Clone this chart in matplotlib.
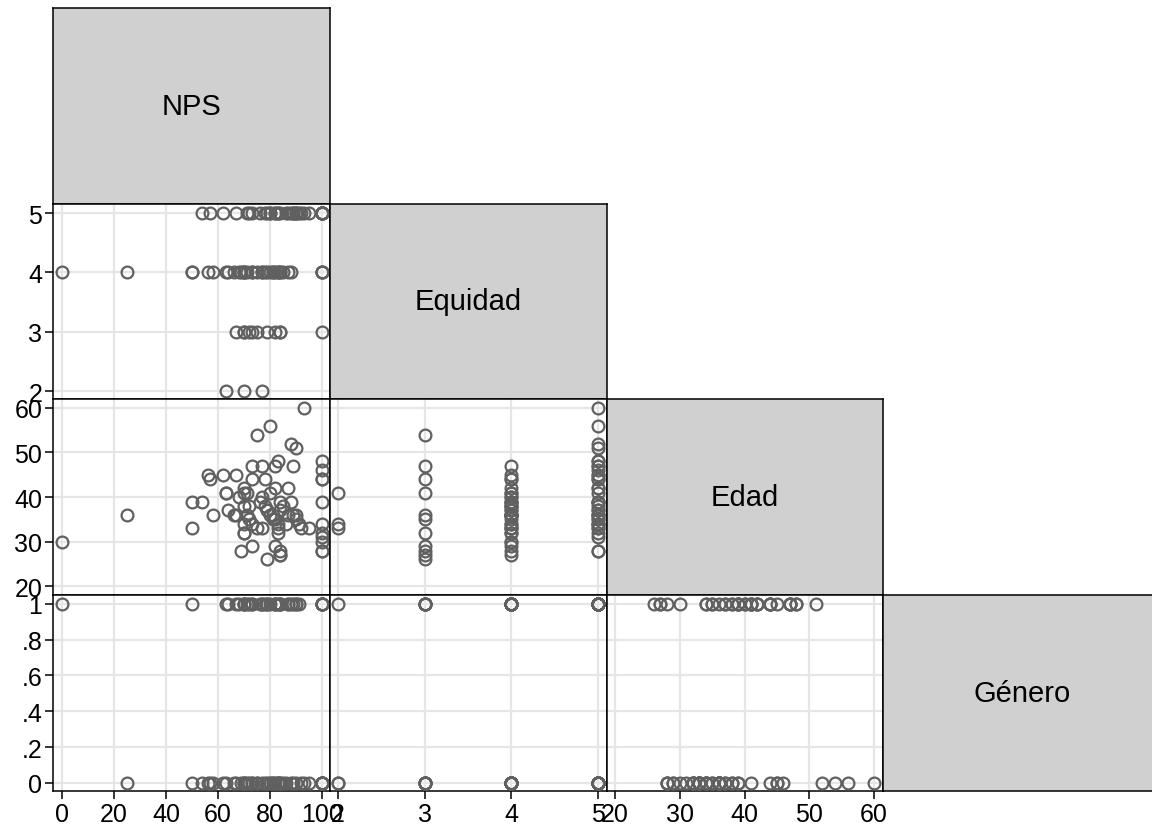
import numpy as np
import matplotlib.pyplot as plt

plt.rcParams['font.family'] = ['Liberation Sans', 'DejaVu Sans']

# one entry per respondent
nps = [0, 25, 50, 50, 54, 56, 57, 58, 62, 63, 64, 67, 67, 68, 69, 70, 70, 70, 70, 71,
       71, 72, 72, 73, 73, 73, 73, 75, 75, 76, 77, 77, 78, 79, 79, 80, 80, 80, 81, 82,
       82, 82, 83, 83, 83, 84, 84, 84, 87, 88, 88, 90, 89, 89, 90, 91, 93, 95, 100, 100,
       100, 100, 100, 100, 100, 100, 100, 100, 100, 70, 84, 70, 66, 63, 79, 81, 82, 83, 84, 85,
       86, 87, 90, 92, 77, 78]
equidad = [4, 4, 4, 4, 5, 4, 5, 4, 5, 2, 4, 5, 3, 4, 4, 2, 3, 4, 4, 5,
           4, 3, 5, 4, 3, 5, 4, 3, 4, 5, 2, 4, 4, 3, 5, 5, 4, 5, 4, 5,
           4, 3, 5, 4, 5, 3, 3, 4, 5, 4, 5, 5, 5, 5, 5, 5, 5, 5, 5, 5,
           4, 3, 5, 5, 4, 5, 4, 5, 5, 4, 4, 3, 4, 4, 4, 4, 5, 4, 5, 4,
           5, 4, 5, 5, 4, 5]
edad = [30, 36, 39, 33, 39, 45, 44, 36, 45, 41, 37, 45, 36, 40, 28, 34, 32, 42, 38, 41,
        36, 35, 38, 34, 29, 47, 44, 54, 33, 39, 33, 47, 38, 26, 37, 56, 41, 36, 35, 42,
        29, 47, 48, 34, 32, 28, 27, 39, 42, 39, 52, 51, 47, 36, 35, 34, 60, 33, 48, 46,
        44, 44, 39, 34, 32, 31, 30, 28, 28, 32, 27, 41, 36, 41, 37, 36, 35, 33, 37, 38,
        34, 36, 36, 33, 40, 44]
genero = [1, 0, 1, 0, 0, 0, 0, 0, 0, 1, 1, 1, 0, 1, 0, 0, 0, 1, 1, 1,
          0, 0, 1, 0, 0, 1, 1, 0, 0, 1, 0, 1, 0, 1, 1, 0, 1, 0, 0, 1,
          0, 1, 1, 0, 0, 0, 1, 1, 1, 1, 0, 1, 1, 0, 1, 1, 0, 0, 1, 0,
          1, 1, 0, 1, 0, 0, 0, 1, 0, 0, 1, 1, 0, 0, 0, 0, 1, 0, 0, 0,
          0, 1, 0, 0, 1, 1]

names = ["NPS", "Equidad", "Edad", "Género"]
ticks = [[0, 20, 40, 60, 80, 100], [2, 3, 4, 5], [20, 30, 40, 50, 60], [0, .2, .4, .6, .8, 1]]
tick_labels = [["0", "20", "40", "60", "80", "100"], ["2", "3", "4", "5"],
               ["20", "30", "40", "50", "60"], ["0", ".2", ".4", ".6", ".8", "1"]]
xlims = [(-3.35, 103.1), (1.908, 5.10), (18.72, 61.44)]
ylims = [None, (1.87, 5.16), (18.14, 62.0), (-0.043, 1.05)]

data = [np.array(nps), np.array(equidad), np.array(edad), np.array(genero)]

W, H = 1152, 829
fig = plt.figure(figsize=(W / 100, H / 100), dpi=100)
col_x = [53.3, 330.0, 606.7, 883.3]
row_y = [9.3, 204.5, 400.0, 596.0]
cw, rh = 276.7, 195.5

for i in range(4):
    for j in range(i + 1):
        ax = fig.add_axes([col_x[j] / W, 1 - (row_y[i] + rh) / H, cw / W, rh / H])
        for s in ax.spines.values():
            s.set_linewidth(1.1)
            s.set_color("black")
        if i == j:
            ax.set_facecolor("#d0d0d0")
            ax.set_xticks([]); ax.set_yticks([])
            ax.text(0.5, 0.5, names[i], ha="center", va="center", fontsize=21,
                    transform=ax.transAxes)
            continue
        ax.plot(data[j], data[i], "o", mfc="none", mec="#606060", ms=8.5, mew=1.6,
                zorder=3, clip_on=False)
        ax.set_xlim(*xlims[j]); ax.set_ylim(*ylims[i])
        ax.set_xticks(ticks[j]); ax.set_yticks(ticks[i])
        ax.grid(True, color="#e6e6e6", linewidth=1.6)
        ax.set_axisbelow(True)
        ax.tick_params(length=6, width=1.1, labelsize=18, pad=2)
        if j == 0:
            ax.set_yticklabels(tick_labels[i])
        else:
            ax.tick_params(axis="y", left=False, labelleft=False)
        if i == 3:
            ax.set_xticklabels(tick_labels[j])
        else:
            ax.tick_params(axis="x", bottom=False, labelbottom=False)

fig.savefig("out.png", dpi=100)
